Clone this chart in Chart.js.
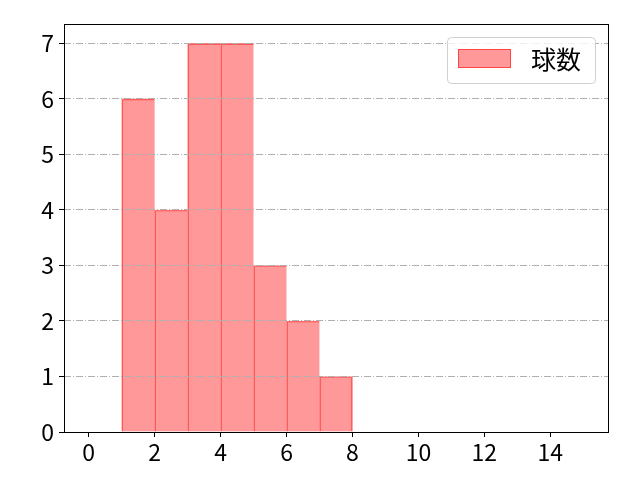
<!DOCTYPE html>
<html>
<head>
<meta charset="utf-8">
<script src="https://cdn.jsdelivr.net/npm/chart.js@4"></script>
<style>
html,body{margin:0;padding:0;background:#fff;}
#wrap{width:640px;height:480px;}
</style>
</head>
<body>
<div id="wrap"><canvas id="c" width="640" height="480"></canvas></div>
<script>
const binCenters = [1.5, 2.5, 3.5, 4.5, 5.5, 6.5, 7.5];
const counts = [6, 4, 7, 7, 3, 2, 1];
const seriesLabel = '球数';
const xTicks = [0, 2, 4, 6, 8, 10, 12, 14];
const yTicks = [0, 1, 2, 3, 4, 5, 6, 7];

const FONT = '"Noto Sans CJK JP", "Noto Sans", sans-serif';
const fillCol = 'rgba(255,0,0,0.4)';
const edgeCol = 'rgba(255,0,0,0.55)';

const framePlugin = {
  id: 'frame',
  afterDraw(chart) {
    const {ctx, chartArea: a} = chart;
    ctx.save();
    ctx.strokeStyle = '#000';
    ctx.lineWidth = 1;
    ctx.strokeRect(Math.round(a.left) + 0.5, Math.round(a.top) + 0.5,
                   Math.round(a.right - a.left), Math.round(a.bottom - a.top));
    // legend
    const lx = 447.5, ly = 37.5, lw = 148, lh = 46, r = 4;
    ctx.beginPath();
    ctx.moveTo(lx + r, ly);
    ctx.lineTo(lx + lw - r, ly);
    ctx.quadraticCurveTo(lx + lw, ly, lx + lw, ly + r);
    ctx.lineTo(lx + lw, ly + lh - r);
    ctx.quadraticCurveTo(lx + lw, ly + lh, lx + lw - r, ly + lh);
    ctx.lineTo(lx + r, ly + lh);
    ctx.quadraticCurveTo(lx, ly + lh, lx, ly + lh - r);
    ctx.lineTo(lx, ly + r);
    ctx.quadraticCurveTo(lx, ly, lx + r, ly);
    ctx.closePath();
    ctx.fillStyle = 'rgba(255,255,255,0.8)';
    ctx.fill();
    ctx.strokeStyle = '#d0d0d0';
    ctx.stroke();
    ctx.fillStyle = fillCol;
    ctx.fillRect(458, 49, 53, 19);
    ctx.strokeStyle = edgeCol;
    ctx.strokeRect(458.5, 49.5, 52, 18);
    ctx.fillStyle = '#000';
    ctx.font = '25px ' + FONT;
    ctx.textBaseline = 'middle';
    ctx.textAlign = 'left';
    ctx.fillText(chart.data.datasets[0].label, 531, 59);
    ctx.restore();
  }
};

new Chart(document.getElementById('c'), {
  type: 'bar',
  data: {
    datasets: [{
      label: seriesLabel,
      data: binCenters.map((x, i) => ({x: x, y: counts[i]})),
      backgroundColor: fillCol,
      borderColor: edgeCol,
      borderWidth: ctx => ({left: 1, top: 1, bottom: 0,
                            right: ctx.dataIndex === counts.length - 1 ? 1 : 0}),
      borderSkipped: false,
      barPercentage: 1,
      categoryPercentage: 1
    }]
  },
  options: {
    responsive: false,
    animation: false,
    devicePixelRatio: 1,
    layout: {padding: {left: 0, right: 32, top: 24, bottom: 0}},
    plugins: {legend: {display: false}, tooltip: {enabled: false}},
    scales: {
      x: {
        type: 'linear',
        offset: false,
        min: -0.75,
        max: 15.75,
        afterBuildTicks: s => { s.ticks = xTicks.map(v => ({value: v})); },
        afterFit: s => { s.height = 48; },
        grid: {offset: false, drawOnChartArea: false, drawTicks: true, tickLength: 5, tickColor: '#000', tickWidth: 1},
        border: {display: false},
        ticks: {color: '#000', font: {family: FONT, size: 23}, padding: 1, maxRotation: 0}
      },
      y: {
        type: 'linear',
        min: 0,
        max: 7.35,
        afterBuildTicks: s => { s.ticks = yTicks.map(v => ({value: v})); },
        afterFit: s => { s.width = 64; },
        grid: {
          z: 1,
          color: '#b0b0b0',
          lineWidth: 1,
          drawTicks: true,
          tickLength: 5,
          tickColor: '#000',
          tickWidth: 1,
          tickBorderDash: []
        },
        border: {display: false, dash: [7, 2, 1, 2]},
        ticks: {color: '#000', font: {family: FONT, size: 23}, padding: 5}
      }
    }
  },
  plugins: [framePlugin]
});
</script>
</body>
</html>
